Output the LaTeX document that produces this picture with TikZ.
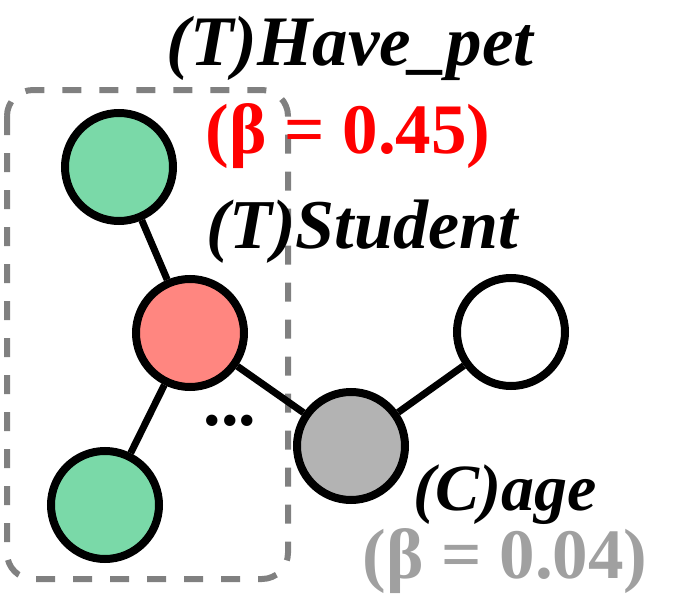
\documentclass[tikz,border=0pt]{standalone}
\usepackage{fontspec}
\setmainfont{Liberation Serif}
\usetikzlibrary{positioning}
\definecolor{leafgreen}{RGB}{122,217,168}
\definecolor{targetred}{RGB}{255,134,128}
\definecolor{valuegray}{RGB}{179,179,179}
\definecolor{betagray}{RGB}{160,160,160}

\begin{document}
\begin{tikzpicture}[x=1pt, y=-1pt,
    vertex/.style={draw, circle, line width=8pt, minimum size=108pt, inner sep=0pt},
    edge/.style={line width=7pt},
    lbl/.style={font=\fontsize{70}{70}\selectfont\bfseries\itshape, inner sep=0pt, anchor=base},
    beta/.style={font=\fontsize{71}{71}\selectfont\bfseries, inner sep=0pt, anchor=base}
]
\useasboundingbox (0,0) rectangle (689,597);

% neighbourhood of the target
\draw[gray, line width=6pt, rounded corners=26pt, dash pattern=on 19pt off 18pt]
    (7,90) rectangle (288,579);

\node[vertex, fill=leafgreen] (top) at (119,167) {};
\node[vertex, fill=targetred] (student) at (190,333) {};
\node[vertex, fill=leafgreen] (bottom) at (105,505) {};
\node[vertex, fill=valuegray] (age) at (351,446) {};
\node[vertex, fill=white] (value) at (511,332) {};

\draw[edge] (top) -- (student);
\draw[edge] (student) -- (bottom);
\draw[edge] (student) -- (age);
\draw[edge] (age) -- (value);

\node[font=\fontsize{70}{70}\selectfont\bfseries, inner sep=0pt, anchor=base] (dots) at (230,425) {...};

\node[lbl, font=\fontsize{71}{71}\selectfont\bfseries\itshape] (havepet) at (350,65) {(T)Have\_pet};
\node[beta, text=red] (betahave) at (348,153) {(β = 0.45)};
\node[lbl] (studentlbl) at (362,248) {(T)Student};
\node[lbl, font=\fontsize{66}{66}\selectfont\bfseries\itshape] (agelbl) at (505,510) {(C)age};
\node[beta, text=betagray] (betaage) at (505,578) {(β = 0.04)};
\end{tikzpicture}
\end{document}
